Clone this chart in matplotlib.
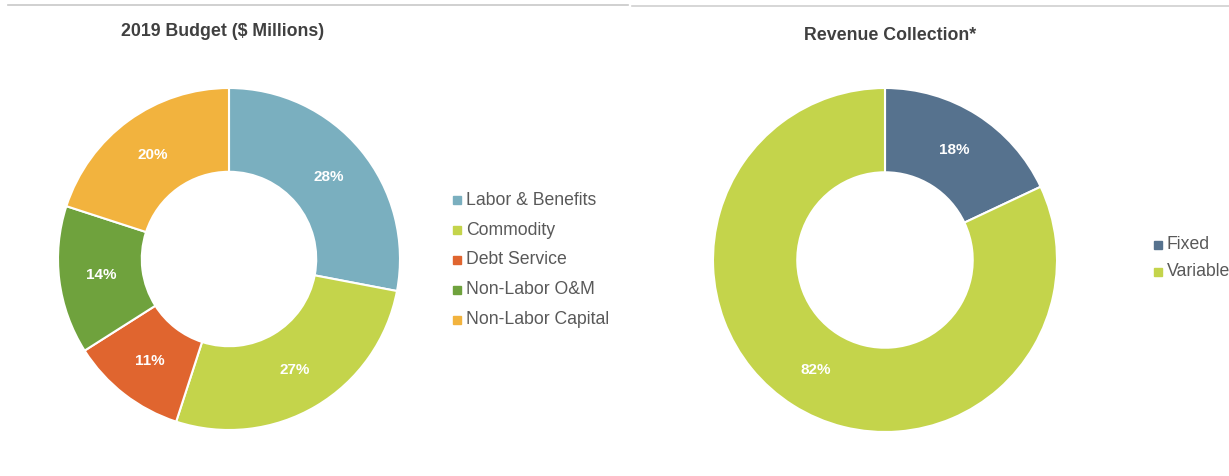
import matplotlib
matplotlib.use("Agg")
import matplotlib.pyplot as plt
from matplotlib.lines import Line2D

plt.rcParams['font.family'] = ['Liberation Sans', 'DejaVu Sans']

# Budget donut
budget_labels = ['Labor & Benefits', 'Commodity', 'Debt Service',
                 'Non-Labor O&M', 'Non-Labor Capital']
budget_values = [28, 27, 11, 14, 20]
budget_colors = ['#7aafbf', '#c4d44b', '#e0652f', '#6fa23d', '#f2b33e']

# Revenue donut
revenue_labels = ['Fixed', 'Variable']
revenue_values = [18, 82]
revenue_colors = ['#56728e', '#c4d44b']

W, H = 1229, 476
fig = plt.figure(figsize=(W / 100, H / 100), dpi=100)


def px_axes(cx, cy, r):
    """Square axes centred on pixel (cx, cy) with radius r (top-left origin)."""
    return fig.add_axes([(cx - r) / W, (H - cy - r) / H, 2 * r / W, 2 * r / H])


def donut(ax, values, colors, hole):
    wedges, _, autotexts = ax.pie(
        values, colors=colors, startangle=90, counterclock=False,
        radius=1.0, autopct='%1.0f%%', pctdistance=1 - (1 - hole) / 2,
        wedgeprops=dict(width=1 - hole, edgecolor='white', linewidth=1.5),
        textprops=dict(color='white', fontsize=11, fontweight='bold'))
    ax.set_xlim(-1, 1)
    ax.set_ylim(-1, 1)
    ax.set_aspect('equal')
    ax.axis('off')
    return wedges


def legend_rows(x, y0, step, labels, colors, size):
    for i, (lab, col) in enumerate(zip(labels, colors)):
        y = y0 + i * step
        fig.add_artist(Line2D([x / W], [1 - y / H], marker='s', markersize=5.5,
                              color=col, linestyle='none'))
        fig.text((x + 9) / W, 1 - y / H, lab, fontsize=size, color='#595959',
                 va='center', ha='left')


ax1 = px_axes(229, 259, 171)
donut(ax1, budget_values, budget_colors, 0.51)
fig.text(223 / W, 1 - 32 / H, '2019 Budget ($ Millions)', fontsize=12.8,
         fontweight='bold', color='#404040', ha='center', va='center')
legend_rows(457, 200, 30, budget_labels, budget_colors, 12.7)

ax2 = px_axes(885, 260, 172)
donut(ax2, revenue_values, revenue_colors, 0.51)
fig.text(890 / W, 1 - 35 / H, 'Revenue Collection*', fontsize=12.8,
         fontweight='bold', color='#404040', ha='center', va='center')
legend_rows(1158, 245, 27, revenue_labels, revenue_colors, 12.7)

# faint panel borders at the top
fig.add_artist(Line2D([8 / W, 628 / W], [1 - 5 / H, 1 - 5 / H],
                      color='#c8c8c8', linewidth=1.2))
fig.add_artist(Line2D([632 / W, 1.0], [1 - 6 / H, 1 - 6 / H],
                      color='#d0d0d0', linewidth=1.2))

fig.savefig('out.png', dpi=100)
